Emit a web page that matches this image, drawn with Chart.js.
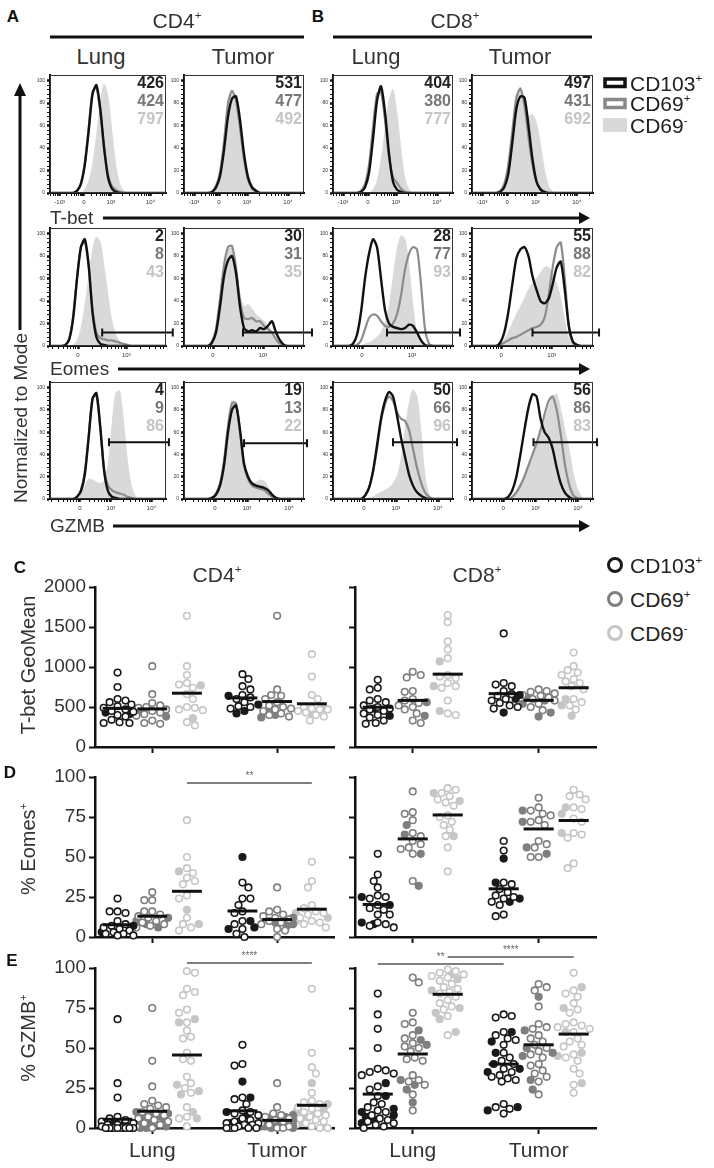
<!DOCTYPE html>
<html>
<head>
<meta charset="utf-8">
<title>T-bet, Eomes and GZMB in CD4+ and CD8+ T cells</title>
<script src="https://cdn.jsdelivr.net/npm/chart.js@4.4.1/dist/chart.umd.min.js"></script>
<style>
  body { margin: 0; background: #fff; }
  #page { position: relative; width: 714px; height: 1168px; overflow: hidden; font-family: 'Liberation Sans', Arial, sans-serif; color: #333; }
  #page canvas { position: absolute; }
  #page svg { position: absolute; left: 0; top: 0; }
  .t { position: absolute; white-space: nowrap; line-height: 1; transform: translate(-50%, -50%); }
  .t.l { transform: translate(0, -50%); }
  .t.r { transform: translate(-100%, -50%); }
  .t.v { transform: translate(-50%, -50%) rotate(-90deg); }
  .t sup { font-size: 0.55em; vertical-align: 0; position: relative; top: -0.75em; }
</style>
</head>
<body>
<div id="page">
<svg width="714" height="1168">
  <g stroke="#111" stroke-width="3" fill="none">
    <line x1="50" y1="37" x2="304" y2="37"/>
    <line x1="333" y1="37" x2="592" y2="37"/>
    <line x1="103" y1="218" x2="581" y2="218"/>
    <line x1="118" y1="369" x2="581" y2="369"/>
    <line x1="113" y1="526" x2="581" y2="526"/>
    <line x1="20" y1="330" x2="20" y2="94"/>
  </g>
  <g fill="#111">
    <polygon points="579,212 590,218 579,224"/>
    <polygon points="579,363 590,369 579,375"/>
    <polygon points="579,520 590,526 579,532"/>
    <polygon points="14,96 20,83 26,96"/>
  </g>
  <rect x="605" y="79" width="20" height="7.5" fill="#fff" stroke="#111" stroke-width="3.5"/>
  <rect x="605" y="99.5" width="20" height="8" fill="#fff" stroke="#888" stroke-width="3.5"/>
  <rect x="603" y="118" width="24" height="14" fill="#d9d9d9"/>
  <circle cx="615" cy="565" r="6.5" fill="none" stroke="#1a1a1a" stroke-width="3"/>
  <circle cx="615" cy="599" r="6.5" fill="none" stroke="#7f7f7f" stroke-width="3"/>
  <circle cx="615" cy="633" r="6.5" fill="none" stroke="#c6c6c6" stroke-width="3"/>
</svg>
</div>
<script>
// ---------- histogram data: % of mode on a 0-120 channel axis ----------
// panel order in every array: CD4 lung, CD4 tumor, CD8 lung, CD8 tumor
const channels = [0,4,8,12,16,20,24,28,32,36,40,44,48,52,56,60,64,68,72,76,80,84,88,92,96,100,104,108,112,116,120];

const tbetCd103 = [
  [0,0,0,0,0,0,0,2,8,25,55,88,96,75,40,14,4,1,0,0,0,0,0,0,0,0,0,0,0,0,0],
  [0,0,0,0,0,0,0,1,5,15,38,68,84,86,65,35,14,5,2,0,0,0,0,0,0,0,0,0,0,0,0],
  [0,0,0,0,0,0,0,1,5,18,48,82,95,72,35,10,3,1,0,0,0,0,0,0,0,0,0,0,0,0,0],
  [0,0,0,0,0,0,0,1,5,17,45,75,86,85,60,30,10,3,1,0,0,0,0,0,0,0,0,0,0,0,0]
];
const tbetCd69pos = [
  [0,0,0,0,0,0,0,2,9,27,58,90,94,72,40,16,6,3,1,0,0,0,0,0,0,0,0,0,0,0,0],
  [0,0,0,0,0,0,0,1,6,18,45,80,91,82,58,30,12,4,1,0,0,0,0,0,0,0,0,0,0,0,0],
  [0,0,0,0,0,0,0,2,8,25,58,88,90,65,32,14,9,4,1,0,0,0,0,0,0,0,0,0,0,0,0],
  [0,0,0,0,0,0,0,2,8,25,55,85,93,78,50,25,10,4,1,0,0,0,0,0,0,0,0,0,0,0,0]
];
const tbetCd69neg = [
  [0,0,0,0,0,0,0,0,0,3,10,25,50,80,97,85,55,25,8,2,0,0,0,0,0,0,0,0,0,0,0],
  [0,0,0,0,0,0,0,2,8,22,50,80,88,80,60,36,18,8,3,1,0,0,0,0,0,0,0,0,0,0,0],
  [0,0,0,0,0,0,0,0,0,0,3,10,28,55,82,92,70,38,12,3,0,0,0,0,0,0,0,0,0,0,0],
  [0,0,0,0,0,0,0,2,8,25,55,82,92,80,68,70,62,42,20,6,1,0,0,0,0,0,0,0,0,0,0]
];

const eomesCd103 = [
  [0,0,0,0,1,6,25,60,88,95,72,30,8,2,1,0,0,0,0,0,0,0,0,0,0,0,0,0,0,0,0],
  [0,0,0,0,0,0,0,3,12,35,62,76,80,65,35,16,13,14,13,16,15,18,22,12,5,1,0,0,0,0,0],
  [0,0,0,0,0,2,10,30,60,82,95,88,60,32,20,17,16,15,16,19,18,12,5,1,0,0,0,0,0,0,0],
  [0,0,0,0,0,0,0,3,12,30,55,78,86,88,80,62,50,40,38,42,55,70,75,50,18,4,1,0,0,0,0]
];
const eomesCd69pos = [
  [0,0,0,0,1,7,27,62,88,93,70,32,12,7,6,5,5,4,3,2,1,0,0,0,0,0,0,0,0,0,0],
  [0,0,0,0,0,0,0,4,15,42,72,88,89,70,40,25,24,25,22,22,18,15,12,6,2,0,0,0,0,0,0],
  [0,0,0,0,0,0,1,5,15,25,28,27,22,18,17,20,28,45,68,82,88,86,55,15,2,0,0,0,0,0,0],
  [0,0,0,0,0,0,0,1,3,5,7,8,10,12,14,16,17,19,25,45,70,88,92,60,18,3,0,0,0,0,0]
];
const eomesCd69neg = [
  [0,0,0,0,0,0,1,5,15,35,60,85,97,92,70,45,22,10,4,1,0,0,0,0,0,0,0,0,0,0,0],
  [0,0,0,0,0,0,0,4,15,40,70,86,87,70,45,35,37,33,28,25,22,18,12,6,2,0,0,0,0,0,0],
  [0,0,0,0,0,0,0,0,2,3,5,8,12,20,35,60,85,98,95,70,35,10,2,0,0,0,0,0,0,0,0],
  [0,0,0,0,0,0,0,2,6,12,20,28,35,42,50,56,60,65,70,70,62,55,42,22,8,2,0,0,0,0,0]
];

const gzmbCd103 = [
  [0,0,0,0,0,0,0,2,7,22,55,90,95,65,25,7,2,1,0,0,0,0,0,0,0,0,0,0,0,0,0],
  [0,0,0,0,0,0,0,1,4,12,30,60,80,84,62,32,20,14,12,11,10,8,4,1,0,0,0,0,0,0,0],
  [0,0,0,0,0,0,0,0,3,10,25,48,72,88,96,92,75,55,38,22,12,6,3,1,0,0,0,0,0,0,0],
  [0,0,0,0,0,0,0,0,0,2,8,20,40,62,82,94,92,72,60,55,45,28,14,6,2,0,0,0,0,0,0]
];
const gzmbCd69pos = [
  [0,0,0,0,0,0,0,2,8,24,57,90,93,63,27,12,8,6,5,4,2,1,0,0,0,0,0,0,0,0,0],
  [0,0,0,0,0,0,0,1,5,14,34,65,86,86,60,30,18,12,10,9,8,5,2,0,0,0,0,0,0,0,0],
  [0,0,0,0,0,0,0,0,3,10,24,45,70,85,92,88,78,72,70,62,45,28,15,6,2,0,0,0,0,0,0],
  [0,0,0,0,0,0,0,0,0,0,2,6,12,20,30,40,50,62,76,88,92,80,58,32,14,4,1,0,0,0,0]
];
const gzmbCd69neg = [
  [0,0,0,0,0,0,0,2,6,12,18,17,15,14,16,30,65,95,97,70,35,12,3,0,0,0,0,0,0,0,0],
  [0,0,0,0,0,0,0,2,6,16,38,70,88,86,58,30,18,14,15,17,16,11,5,1,0,0,0,0,0,0,0],
  [0,0,0,0,0,0,0,0,0,1,2,4,6,8,10,14,20,35,62,85,98,92,60,20,4,0,0,0,0,0,0],
  [0,0,0,0,0,0,0,0,0,0,3,8,14,22,32,40,50,60,70,82,92,94,80,62,45,25,10,3,0,0,0]
];

// numbers printed in each histogram: CD103+, CD69+, CD69-
const tbetMfi = [[426, 424, 797], [531, 477, 492], [404, 380, 777], [497, 431, 692]];
const eomesPct = [[2, 8, 43], [30, 31, 35], [28, 77, 93], [55, 88, 82]];
const gzmbPct = [[4, 9, 86], [19, 13, 22], [50, 66, 96], [56, 86, 83]];

// positive gates: [from channel, to channel, height]
const eomesGates = [[54, 127, 12], [59, 128, 12], [54, 127, 12], [60, 126, 12]];
const gzmbGates = [[61, 123, 51], [60, 123, 50], [60, 124, 51], [61, 124, 51]];

// labelled ticks of the fluorescence axes
const tbetAxis = [[10, '-10³'], [35, '0'], [63, '10³'], [104, '10⁴']];
const eomesAxis = [[29, '0'], [79, '10³']];
const gzmbAxis = [[31, '0'], [63, '10³'], [105, '10⁴']];

// ---------- dot plot data ----------
// group order: lung CD103+, lung CD69+, lung CD69-, tumor CD103+, tumor CD69+, tumor CD69-
const tissues = ['Lung', 'Tumor'];
const geoCd4Open = [
  [930, 750, 600, 580, 560, 530, 510, 490, 470, 450, 440, 400, 380, 340, 310, 300, 300],
  [1010, 660, 550, 520, 500, 490, 470, 450, 430, 410, 390, 330, 300, 290],
  [1640, 1010, 900, 800, 780, 740, 660, 600, 500, 490, 470, 460, 310, 270],
  [910, 850, 760, 720, 650, 620, 600, 560, 510, 500, 480],
  [1640, 720, 650, 640, 600, 560, 520, 500, 480, 470, 450, 420, 400, 380],
  [1160, 880, 650, 600, 480, 470, 500, 470, 450, 430, 400, 380, 330]
];
const geoCd4Filled = [[430, 410], [440, 380], [770, 360], [640, 530, 450, 420], [460, 400, 370], [480, 420]];
const geoCd8Open = [
  [840, 740, 720, 600, 580, 560, 520, 500, 480, 470, 450, 420, 400, 370, 330, 300, 290],
  [940, 900, 870, 700, 690, 600, 580, 550, 520, 500, 470, 420, 330, 300],
  [1650, 1560, 1320, 1220, 1110, 900, 880, 860, 800, 760, 740, 580, 420, 400],
  [1420, 800, 780, 760, 700, 660, 640, 600, 580, 550, 520, 500, 480],
  [720, 700, 690, 670, 650, 640, 620, 600, 580, 540, 500, 460],
  [1180, 1010, 960, 930, 900, 850, 820, 800, 760, 720, 600, 560, 520, 470]
];
const geoCd8Filled = [[480, 390], [560, 390], [1070, 760, 450], [650, 600, 430], [620, 580, 540, 430, 380], [600, 520, 390]];

const eomesCd4Open = [
  [24, 16, 16, 15, 10, 8, 7, 6, 5, 4, 3, 2, 2, 1, 1],
  [28, 23, 23, 16, 16, 14, 13, 12, 10, 9, 8, 7, 6],
  [73, 50, 43, 40, 37, 35, 33, 26, 24, 12, 8, 6, 4],
  [34, 31, 24, 24, 20, 16, 15, 10, 8, 5, 2, 0],
  [31, 17, 16, 14, 13, 12, 11, 10, 9, 8, 5, 4, 0],
  [47, 35, 31, 20, 18, 16, 15, 14, 12, 10, 9, 8, 6]
];
const eomesCd4Filled = [[7, 3], [12, 10, 8, 6], [41, 17, 8], [50, 10, 6, 5], [12, 10, 9, 8, 7], [15, 12, 10]];
const eomesCd8Open = [
  [52, 39, 35, 31, 26, 25, 24, 20, 18, 17, 14, 14, 9, 8, 7, 6],
  [91, 78, 77, 73, 65, 63, 60, 58, 56, 55, 52, 35],
  [93, 92, 90, 88, 86, 84, 82, 76, 75, 72, 70, 67, 63, 56, 41],
  [60, 54, 34, 33, 30, 28, 26, 25, 24, 22, 20, 14, 13],
  [87, 81, 79, 77, 76, 73, 72, 70, 60, 58, 56, 50, 50],
  [92, 89, 88, 86, 81, 80, 74, 72, 65, 64, 62, 46, 43]
];
const eomesCd8Filled = [[25, 20, 9, 8], [70, 64, 52, 32], [90, 85, 63], [49, 34, 24, 22], [79, 72, 56, 52], [81, 77, 65]];

const gzmbCd4Open = [
  [68, 28, 19, 7, 6, 5, 4, 3, 2, 2, 1, 1, 0, 0, 0, 0, 0, 0, 0, 0],
  [75, 42, 26, 17, 15, 14, 13, 12, 10, 9, 8, 7, 6, 5, 4, 3, 2, 1, 0],
  [98, 97, 87, 85, 83, 74, 72, 66, 61, 57, 56, 47, 43, 42, 32, 28, 25, 22, 13, 7, 6, 1],
  [52, 40, 39, 19, 18, 15, 11, 10, 9, 8, 6, 5, 4, 3, 3, 2, 2, 1, 0, 0, 0, 0, 0],
  [28, 13, 9, 8, 7, 6, 5, 4, 3, 2, 1, 0, 0],
  [87, 47, 38, 34, 22, 17, 16, 15, 13, 12, 10, 9, 8, 7, 6, 5, 4, 3, 2, 1, 0, 0]
];
const gzmbCd4Filled = [
  [3, 2, 1, 1, 0, 0, 0, 0],
  [10, 9, 8, 7, 6, 5, 4, 3, 2, 1, 0, 0],
  [68, 66, 27, 23, 21, 10, 6],
  [29, 19, 10, 8, 4, 3, 2],
  [8, 7, 6, 5, 4, 3, 3, 2, 2, 1, 1, 1, 0, 0],
  [28, 15, 12, 10, 9, 8, 7, 5, 3, 1]
];
const gzmbCd8Open = [
  [84, 71, 62, 50, 37, 36, 35, 34, 33, 26, 24, 20, 16, 15, 13, 11, 10, 8, 6, 5, 4, 3, 2, 1, 0],
  [94, 91, 72, 66, 65, 58, 56, 53, 51, 50, 48, 44, 43, 42, 33, 30, 29, 27, 21, 11],
  [99, 98, 97, 96, 95, 94, 92, 90, 88, 87, 85, 84, 82, 80, 78, 76, 74, 70, 58],
  [71, 70, 69, 60, 58, 56, 55, 52, 47, 44, 42, 40, 37, 35, 33, 32, 31, 30, 29, 15, 13, 12, 9],
  [90, 88, 86, 76, 65, 63, 62, 58, 56, 54, 52, 50, 48, 46, 44, 40, 39, 36, 34, 32, 29, 21],
  [97, 86, 84, 82, 78, 74, 72, 66, 65, 64, 63, 62, 60, 56, 54, 52, 51, 46, 44, 42, 37, 34, 27, 22]
];
const gzmbCd8Filled = [
  [28, 20, 12, 10, 8, 7, 5, 3],
  [61, 55, 52, 30, 27, 24, 16],
  [96, 93, 86, 75, 72, 68, 60],
  [60, 54, 47, 40, 37, 35, 13, 11],
  [82, 61, 50, 47, 45, 30, 24],
  [88, 75, 60, 47, 45, 28]
];

// ---------- layout ----------
const page = document.getElementById('page');
const FONT = "'Liberation Sans', Arial, sans-serif";
Chart.defaults.font.family = FONT;
Chart.defaults.color = '#333';
Chart.defaults.animation = false;

const subsetColors = ['#1a1a1a', '#7f7f7f', '#c6c6c6'];
const numberColors = ['#222', '#777', '#c4c4c4'];

function text(html, x, y, size, cls, extra) {
  const d = document.createElement('div');
  d.className = 't' + (cls ? ' ' + cls : '');
  d.innerHTML = html;
  d.style.left = x + 'px';
  d.style.top = y + 'px';
  d.style.fontSize = size + 'px';
  Object.assign(d.style, extra || {});
  page.appendChild(d);
  return d;
}

function canvasAt(x, y, w, h) {
  const c = document.createElement('canvas');
  c.width = w;
  c.height = h;
  c.style.left = x + 'px';
  c.style.top = y + 'px';
  c.style.width = w + 'px';
  c.style.height = h + 'px';
  page.appendChild(c);
  return c;
}

// thin frame round the histogram plot area
const boxPlugin = {
  id: 'box',
  afterDraw(chart) {
    const { ctx, chartArea: a } = chart;
    ctx.save();
    ctx.strokeStyle = '#333';
    ctx.lineWidth = 1;
    ctx.strokeRect(a.left + 0.5, a.top + 0.5, a.right - a.left - 1, a.bottom - a.top - 1);
    ctx.restore();
  }
};

// gate bar with end caps
function gatePlugin(gate) {
  return {
    id: 'gate',
    afterDatasetsDraw(chart) {
      if (!gate) return;
      const { ctx, scales: { x, y } } = chart;
      const x0 = x.getPixelForValue(gate[0]), x1 = x.getPixelForValue(gate[1]), yy = y.getPixelForValue(gate[2]);
      ctx.save();
      ctx.strokeStyle = '#111';
      ctx.lineWidth = 2;
      ctx.beginPath();
      ctx.moveTo(x0, yy); ctx.lineTo(x1, yy);
      ctx.moveTo(x0, yy - 4); ctx.lineTo(x0, yy + 4);
      ctx.moveTo(x1, yy - 4); ctx.lineTo(x1, yy + 4);
      ctx.stroke();
      ctx.restore();
    }
  };
}

function minorTicks(majors) {
  const v = majors.map(t => t[0]);
  const w = v[v.length - 1] - v[v.length - 2];
  const ext = [v[0] - w, ...v, v[v.length - 1] + w];
  const out = [];
  for (let i = 0; i < ext.length - 1; i++) {
    for (let k = 2; k <= 9; k++) {
      const t = ext[i] + (ext[i + 1] - ext[i]) * Math.log10(k);
      if (t > 0 && t < 120) out.push(t);
    }
  }
  return out;
}

const histCols = [[50, 166], [184, 304], [333, 453], [472, 593]];
const histRows = [[74, 193], [227, 346], [381, 499]];
const yTickVals = [];
for (let v = 0; v <= 100; v += 4) yTickVals.push(v);

function histogram(col, row, black, grey, light, nums, axis, gate) {
  const [bx0, bx1] = histCols[col];
  const [by0, by1] = histRows[row];
  const c = canvasAt(bx0 - 16, by0 - 4, 16 + (bx1 - bx0) + 12, 4 + (by1 - by0) + 16);
  const pts = arr => arr.map((v, i) => ({ x: channels[i], y: v }));
  const majors = axis.map(t => t[0]);
  const allTicks = majors.concat(minorTicks(axis)).sort((a, b) => a - b);
  const line = { pointRadius: 0, tension: 0.25, fill: false };
  new Chart(c, {
    type: 'line',
    data: {
      datasets: [
        { ...line, data: pts(black), borderColor: '#111', borderWidth: 2.4 },
        { ...line, data: pts(grey), borderColor: '#8c8c8c', borderWidth: 2.2 },
        { ...line, data: pts(light), borderColor: '#d9d9d9', backgroundColor: '#d9d9d9', borderWidth: 1, fill: 'origin' }
      ]
    },
    options: {
      responsive: false,
      layout: { padding: { top: 4, right: 12, left: 0, bottom: 0 } },
      plugins: { legend: { display: false }, tooltip: { enabled: false } },
      scales: {
        x: {
          type: 'linear', min: 0, max: 120,
          afterBuildTicks: s => { s.ticks = allTicks.map(v => ({ value: v })); },
          afterFit: s => { s.height = 16; },
          ticks: {
            autoSkip: false, maxRotation: 0, padding: 3, font: { size: 6 }, color: '#333',
            callback: v => { const t = axis.find(a => a[0] === v); return t ? t[1] : ''; }
          },
          grid: { drawOnChartArea: false, tickLength: 3, color: '#111', tickWidth: ctx => majors.includes(ctx.tick && ctx.tick.value) ? 2.5 : 1 },
          border: { color: '#111', width: 2 }
        },
        y: {
          min: 0, max: 105,
          afterBuildTicks: s => { s.ticks = yTickVals.map(v => ({ value: v })); },
          afterFit: s => { s.width = 16; },
          ticks: { autoSkip: false, padding: 2, font: { size: 5 }, color: '#333', callback: v => v % 20 === 0 ? String(v) : '' },
          grid: { drawOnChartArea: false, tickLength: 3, color: '#111', tickWidth: ctx => (ctx.tick && ctx.tick.value % 20 === 0) ? 2.5 : 1 },
          border: { color: '#111', width: 2 }
        }
      }
    },
    plugins: [boxPlugin, gatePlugin(gate)]
  });
  nums.forEach((n, i) => {
    text(String(n), bx1 - 2, by0 + 9 + i * 18, 16, 'r', { fontWeight: 'bold', color: numberColors[i] });
  });
}

const markerRows = [
  [tbetCd103, tbetCd69pos, tbetCd69neg, tbetMfi, tbetAxis, null],
  [eomesCd103, eomesCd69pos, eomesCd69neg, eomesPct, eomesAxis, eomesGates],
  [gzmbCd103, gzmbCd69pos, gzmbCd69neg, gzmbPct, gzmbAxis, gzmbGates]
];
markerRows.forEach(([b, g, l, nums, axis, gates], row) => {
  for (let col = 0; col < 4; col++) {
    histogram(col, row, b[col], g[col], l[col], nums[col], axis, gates ? gates[col] : null);
  }
});

// ---------- dot plots ----------
const groupPos = [0.65, 1.65, 2.65, 4.25, 5.25, 6.25];
const catPos = [1.65, 5.25];

// simple beeswarm so overlapping points spread sideways (pixel space)
function swarm(vals, pxPerUnit) {
  const placed = [];
  return vals.map((v, i) => {
    const py = v * pxPerUnit;
    let best = 0, bestGap = -1;
    for (let k = 0; k <= 8 && bestGap < 7; k++) {
      const sides = k === 0 ? [0] : (i % 2 ? [1, -1] : [-1, 1]);
      for (const s of sides) {
        const px = s * k * 2;
        let gap = Infinity;
        placed.forEach(p => { gap = Math.min(gap, Math.hypot(p[0] - px, p[1] - py)); });
        if (gap > bestGap) { bestGap = gap; best = px; }
        if (gap >= 7) break;
      }
    }
    placed.push([best, py]);
    return best / 35;
  });
}

function sigPlugin(bars) {
  return {
    id: 'sig',
    afterDraw(chart) {
      const { ctx, chartArea, scales: { x } } = chart;
      ctx.save();
      bars.forEach(([a, b, dy, label]) => {
        const x0 = x.getPixelForValue(groupPos[a]), x1 = x.getPixelForValue(groupPos[b]);
        const yy = chartArea.top + dy;
        ctx.strokeStyle = '#555';
        ctx.lineWidth = 1.5;
        ctx.beginPath(); ctx.moveTo(x0, yy); ctx.lineTo(x1, yy); ctx.stroke();
        ctx.fillStyle = '#666';
        ctx.font = '10px ' + FONT;
        ctx.textAlign = 'center';
        ctx.textBaseline = 'middle';
        ctx.fillText(label, (x0 + x1) / 2, yy - 7);
      });
      ctx.restore();
    }
  };
}

function dotPlot(o) {
  const c = canvasAt(o.x, o.y, o.w, o.h);
  const datasets = [];
  o.open.forEach((vals, g) => {
    const filled = o.filled[g];
    const all = vals.concat(filled);
    const offs = swarm(all, o.pxPerUnit);
    const mean = all.reduce((s, v) => s + v, 0) / all.length;
    const col = subsetColors[g % 3];
    datasets.push({
      type: 'line', order: -1, clip: false, pointRadius: 0, borderColor: '#111', borderWidth: 3,
      data: [{ x: groupPos[g] - 0.43, y: mean }, { x: groupPos[g] + 0.43, y: mean }]
    });
    datasets.push({
      clip: false, pointRadius: 3.3, borderWidth: 1.6, borderColor: col, backgroundColor: '#fff',
      data: vals.map((v, k) => ({ x: groupPos[g] + offs[k], y: v }))
    });
    datasets.push({
      clip: false, pointRadius: 3.3, borderWidth: 1.6, borderColor: col, backgroundColor: col,
      data: filled.map((v, k) => ({ x: groupPos[g] + offs[vals.length + k], y: v }))
    });
  });
  new Chart(c, {
    type: 'scatter',
    data: { datasets },
    options: {
      responsive: false,
      layout: { padding: { top: o.padTop, right: 5, left: 0, bottom: 0 } },
      plugins: { legend: { display: false }, tooltip: { enabled: false } },
      scales: {
        x: {
          type: 'linear', min: 0, max: 6.9,
          afterBuildTicks: s => { s.ticks = catPos.map(v => ({ value: v })); },
          afterFit: s => { s.height = o.xH; },
          ticks: { autoSkip: false, maxRotation: 0, padding: 5, color: '#333', font: { size: 21 }, callback: (v, i) => o.xLabels ? o.xLabels[i] : '' },
          grid: { drawOnChartArea: false, tickLength: 6, tickWidth: 2, color: '#111' },
          border: { color: '#111', width: 2.5 }
        },
        y: {
          min: 0, max: o.yMax,
          afterFit: s => { s.width = o.yW; },
          ticks: { stepSize: o.yStep, padding: 3, color: '#333', font: { size: 19 }, callback: v => o.yLabels ? v : '' },
          grid: { drawOnChartArea: false, tickLength: 6, tickWidth: 2, color: '#111' },
          border: { color: '#111', width: 2.5 }
        }
      }
    },
    plugins: [sigPlugin(o.sig || [])]
  });
}

const left = { x: 0, w: 340, yW: 95, yLabels: true };
const right = { x: 300, w: 302, yW: 55, yLabels: false };
const rowC = { y: 567, h: 195, padTop: 20, xH: 15, yMax: 2000, yStep: 500, pxPerUnit: 0.08 };
const rowD = { y: 757, h: 195, padTop: 20, xH: 15, yMax: 100, yStep: 25, pxPerUnit: 1.6 };
const rowE = { y: 940, h: 228, padTop: 28, xH: 40, yMax: 100, yStep: 25, pxPerUnit: 1.6, xLabels: tissues };

dotPlot({ ...left, ...rowC, open: geoCd4Open, filled: geoCd4Filled });
dotPlot({ ...right, ...rowC, open: geoCd8Open, filled: geoCd8Filled });
dotPlot({ ...left, ...rowD, open: eomesCd4Open, filled: eomesCd4Filled, sig: [[2, 5, 6, '**']] });
dotPlot({ ...right, ...rowD, open: eomesCd8Open, filled: eomesCd8Filled });
dotPlot({ ...left, ...rowE, open: gzmbCd4Open, filled: gzmbCd4Filled, sig: [[2, 5, -5, '****']] });
dotPlot({ ...right, ...rowE, open: gzmbCd8Open, filled: gzmbCd8Filled, sig: [[2, 5, -11, '****'], [0, 3, -4, '**']] });

// ---------- text ----------
text('A', 13, 16, 17, '', { fontWeight: 'bold', color: '#111' });
text('B', 318, 16, 17, '', { fontWeight: 'bold', color: '#111' });
text('CD4<sup>+</sup>', 177, 20, 21);
text('CD8<sup>+</sup>', 455, 20, 21);
text('Lung', 101, 57, 22);
text('Tumor', 243, 57, 22);
text('Lung', 376, 57, 22);
text('Tumor', 520, 57, 22);
text('CD103<sup>+</sup>', 630, 83, 21, 'l', { color: '#222' });
text('CD69<sup>+</sup>', 630, 103, 21, 'l', { color: '#222' });
text('CD69<sup>-</sup>', 630, 125, 21, 'l', { color: '#222' });
text('T-bet', 50, 217, 19, 'l');
text('Eomes', 50, 368, 19, 'l');
text('GZMB', 50, 525, 19, 'l');
text('Normalized to Mode', 20, 418, 19, 'v');

text('C', 20, 567, 17, '', { fontWeight: 'bold', color: '#111' });
text('D', 10, 772, 17, '', { fontWeight: 'bold', color: '#111' });
text('E', 12, 960, 17, '', { fontWeight: 'bold', color: '#111' });
text('CD4<sup>+</sup>', 217, 574, 21);
text('CD8<sup>+</sup>', 477, 574, 21);
text('CD103<sup>+</sup>', 630, 565, 21, 'l', { color: '#222' });
text('CD69<sup>+</sup>', 630, 599, 21, 'l', { color: '#222' });
text('CD69<sup>-</sup>', 630, 633, 21, 'l', { color: '#222' });
text('T-bet GeoMean', 28, 665, 20, 'v');
text('% Eomes<sup>+</sup>', 28, 849, 20, 'v');
text('% GZMB<sup>+</sup>', 28, 1038, 20, 'v');
</script>
</body>
</html>
